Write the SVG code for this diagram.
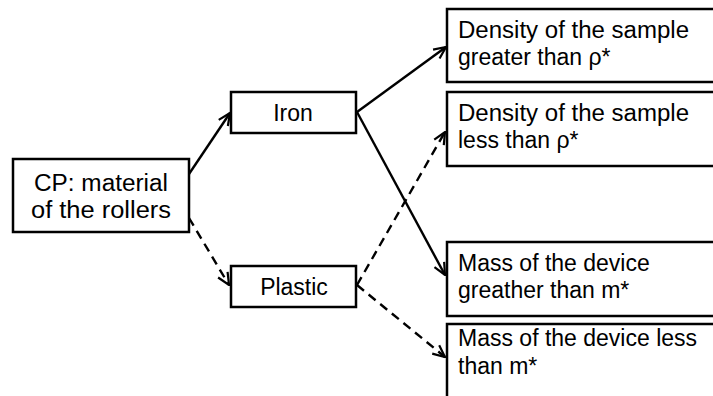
<svg xmlns="http://www.w3.org/2000/svg" width="713" height="396" viewBox="0 0 713 396">
  <style>
    .box { fill: #ffffff; stroke: #000000; stroke-width: 2.5; }
    .lbl { font-family: "Liberation Sans", Arial, sans-serif; font-size: 23px; fill: #000000; }
    .mid { text-anchor: middle; }
    .edge { fill: none; stroke: #000000; stroke-width: 2.4; marker-end: url(#open); }
    .dash { stroke-dasharray: 9 6; }
  </style>
  <defs>
    <marker id="open" viewBox="0 0 14 14" refX="13" refY="7" markerWidth="14" markerHeight="14" markerUnits="userSpaceOnUse" orient="auto">
      <path d="M1,1.5 L13,7 L1,12.5" fill="none" stroke="#000000" stroke-width="2.2"/>
    </marker>
  </defs>
  <rect width="713" height="396" fill="#ffffff"/>

  <g id="connectors">
    <line class="edge" x1="189" y1="174" x2="230" y2="113"/>
    <line class="edge dash" x1="189" y1="218" x2="229" y2="285"/>
    <line class="edge" x1="357" y1="112" x2="446" y2="47"/>
    <line class="edge" x1="357" y1="112" x2="445" y2="275"/>
    <line class="edge dash" x1="357" y1="285" x2="445" y2="132"/>
    <line class="edge dash" x1="357" y1="285" x2="445" y2="357"/>
  </g>

  <g id="cp">
    <rect class="box" x="13" y="159" width="176" height="73"/>
    <text class="lbl mid" x="101" y="191" textLength="134" lengthAdjust="spacingAndGlyphs">CP: material</text>
    <text class="lbl mid" x="101" y="218" textLength="140" lengthAdjust="spacingAndGlyphs">of the rollers</text>
  </g>

  <g id="iron">
    <rect class="box" x="231" y="92" width="125" height="41"/>
    <text class="lbl mid" x="293" y="121">Iron</text>
  </g>

  <g id="plastic">
    <rect class="box" x="231" y="266" width="125" height="41"/>
    <text class="lbl mid" x="294" y="295">Plastic</text>
  </g>

  <g id="density-greater">
    <rect class="box" x="447" y="9" width="280" height="73"/>
    <text class="lbl" x="458" y="38" textLength="231" lengthAdjust="spacingAndGlyphs">Density of the sample</text>
    <text class="lbl" x="458" y="65">greater than ρ*</text>
  </g>

  <g id="density-less">
    <rect class="box" x="447" y="92" width="280" height="74"/>
    <text class="lbl" x="458" y="121" textLength="231" lengthAdjust="spacingAndGlyphs">Density of the sample</text>
    <text class="lbl" x="458" y="148">less than ρ*</text>
  </g>

  <g id="mass-greater">
    <rect class="box" x="447" y="242" width="280" height="74"/>
    <text class="lbl" x="458" y="271">Mass of the device</text>
    <text class="lbl" x="458" y="298">greather than m*</text>
  </g>

  <g id="mass-less">
    <rect class="box" x="447" y="324" width="280" height="90"/>
    <text class="lbl" x="458" y="346">Mass of the device less</text>
    <text class="lbl" x="458" y="374">than m*</text>
  </g>
</svg>
